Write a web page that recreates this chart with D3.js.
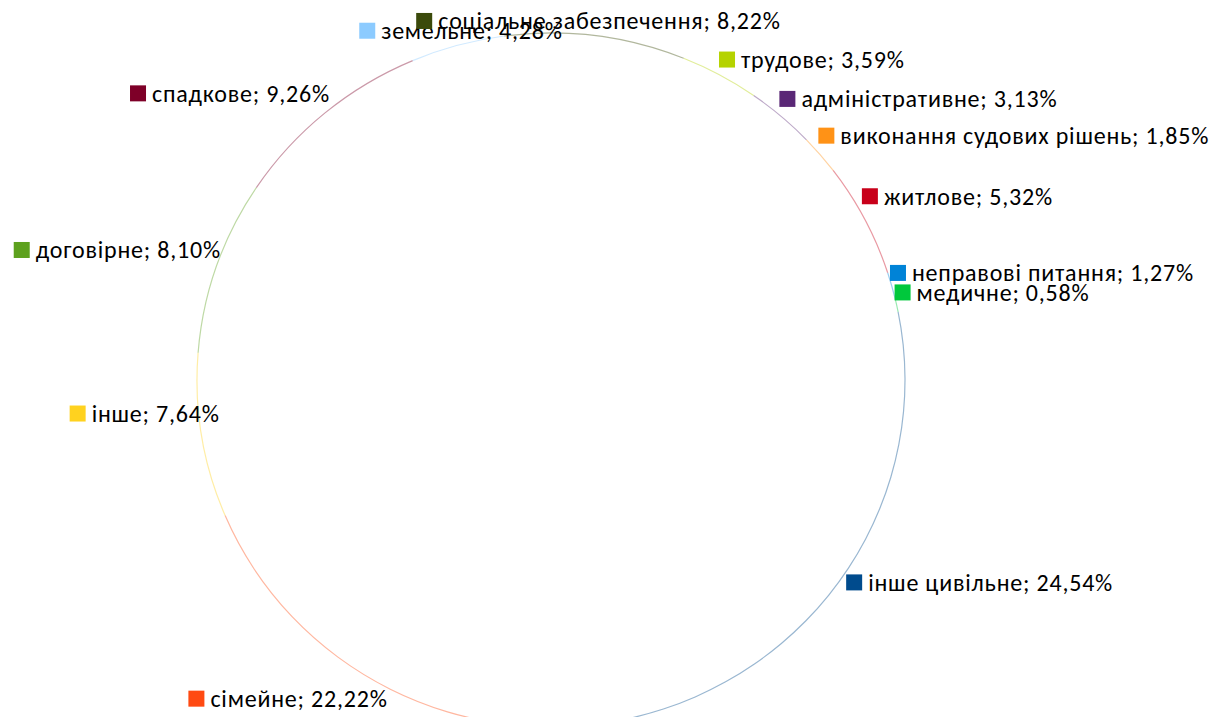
<!DOCTYPE html>
<html lang="uk">
<head>
<meta charset="UTF-8">
<title>Структура звернень</title>
<script src="https://cdnjs.cloudflare.com/ajax/libs/d3/7.8.5/d3.min.js"></script>
<style>
    body { margin: 0; background: #fff; }
    svg { display: block; }
    .lbl text { font-family: Carlito, Calibri, "Liberation Sans", sans-serif; font-size: 24px; letter-spacing: 0.8px; fill: #000; }
</style>
</head>
<body>
<svg id="chart" width="1229" height="717"></svg>
<script>
// slices in drawing order, clockwise from the first slice
const categories = ["трудове", "адміністративне", "виконання судових рішень", "житлове",
    "неправові питання", "медичне", "інше цивільне", "сімейне", "інше", "договірне",
    "спадкове", "земельне", "соціальне забезпечення"];
const shares = [3.59, 3.13, 1.85, 5.32, 1.27, 0.58, 24.54, 22.22, 7.64, 8.10, 9.26, 4.28, 8.22];
const colors = ["#b5d300", "#5a2776", "#ff9216", "#c8001a", "#0083d7", "#00c83c", "#004b8d",
    "#ff4a12", "#ffd21f", "#5da11e", "#7e0028", "#8ccbff", "#3b4a0b"];

// label layout (alignment + small nudge from the outside-end anchor)
const labelAlign = ["start", "start", "start", "start", "start", "start", "start",
    "end", "end", "end", "end", "middle", "middle"];
const labelNudge = [[-4.5, -8.5], [-7, -11.5], [-8, -14], [-10, -19.5], [-9.5, -11], [-10, -11.5],
    [-9, 10], [1, 2.5], [26, -23.5], [12, -14], [10, -13.5], [5.5, -7], [2, -7]];

const svg = d3.select("#chart");
const cx = 551, cy = 380, rx = 354, ry = 347;
const firstAngle = 22 * Math.PI / 180;

const data = categories.map((c, i) => ({ name: c, value: shares[i], color: colors[i] }));

const pie = d3.pie()
    .value(d => d.value)
    .sort(null)
    .startAngle(firstAngle)
    .endAngle(firstAngle + 2 * Math.PI);
const arcs = pie(data);

// outline only: thin ring segments
const ring = d3.arc().innerRadius(rx - 0.6).outerRadius(rx + 0.6);
svg.append("g")
    .attr("transform", `translate(${cx},${cy}) scale(1,${ry / rx})`)
    .selectAll("path")
    .data(arcs)
    .enter()
    .append("path")
    .attr("d", ring)
    .attr("fill", d => d.data.color)
    .attr("fill-opacity", 0.4);

const labelArc = d3.arc().innerRadius(rx + 8).outerRadius(rx + 8);
const sq = 16, gap = 6;

const labels = svg.append("g")
    .selectAll("g")
    .data(arcs)
    .enter()
    .append("g")
    .attr("class", "lbl");

labels.append("rect")
    .attr("x", 0)
    .attr("y", -sq / 2)
    .attr("width", sq)
    .attr("height", sq)
    .attr("fill", d => d.data.color);

labels.append("text")
    .attr("x", sq + gap)
    .attr("dy", "0.35em")
    .text(d => `${d.data.name}; ${d.data.value.toFixed(2).replace(".", ",")}%`);

labels.attr("transform", function (d, i) {
    const [px, py] = labelArc.centroid(d);
    const ax = cx + px, ay = cy + py * ry / rx;
    const w = sq + gap + this.querySelector("text").getComputedTextLength();
    let x = ax + labelNudge[i][0];
    if (labelAlign[i] === "end") x -= w;
    if (labelAlign[i] === "middle") x -= w / 2;
    return `translate(${x},${ay + labelNudge[i][1]})`;
});
</script>
</body>
</html>
